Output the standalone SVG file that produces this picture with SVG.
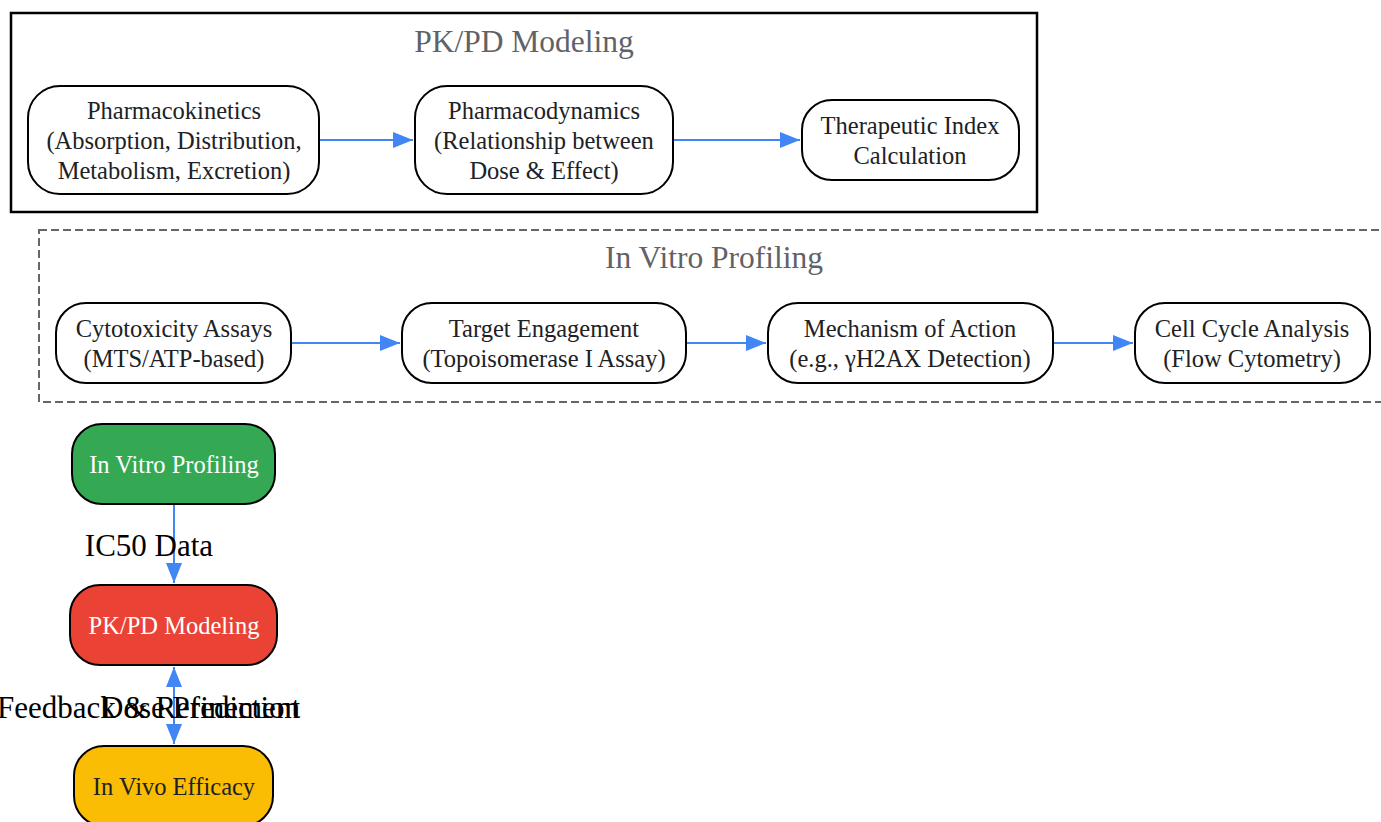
<svg xmlns="http://www.w3.org/2000/svg" width="1381" height="822" viewBox="0 0 1381 822">
<defs>
<style>
.n{fill:#fff;stroke:#000;stroke-width:2}
.t{font-family:"Liberation Serif","Times New Roman",serif;font-size:24.5px;fill:#202124;text-anchor:middle}
.w{fill:#fff}
.ct{font-family:"Liberation Serif","Times New Roman",serif;font-size:31.5px;fill:#5f6368;text-anchor:middle}
.e{stroke:#4285f4;stroke-width:2;fill:none}
.lb{font-family:"Liberation Serif","Times New Roman",serif;font-size:31px;fill:#000}
</style>
<marker id="a" markerWidth="20" markerHeight="16" refX="20" refY="8" orient="auto" markerUnits="userSpaceOnUse"><path d="M0,0L20,8L0,16Z" fill="#4285f4"/></marker>
</defs>
<rect width="1381" height="822" fill="#fff"/>
<g id="cluster-pkpd">
<rect x="11" y="13" width="1026" height="199" fill="none" stroke="#000" stroke-width="2.5"/>
<text class="ct" x="524" y="52">PK/PD Modeling</text>
</g>
<g id="cluster-invitro">
<rect x="39" y="230" width="1360" height="172" fill="none" stroke="#666" stroke-width="2" stroke-dasharray="8,4"/>
<text class="ct" x="714" y="268">In Vitro Profiling</text>
</g>
<g id="edges">
<path class="e" d="M319,140H413" marker-end="url(#a)"/>
<path class="e" d="M673,140H800" marker-end="url(#a)"/>
<path class="e" d="M291,343H400" marker-end="url(#a)"/>
<path class="e" d="M686,343H766" marker-end="url(#a)"/>
<path class="e" d="M1053,343H1133" marker-end="url(#a)"/>
<path class="e" d="M174,504V583" marker-end="url(#a)"/>
<path class="e" d="M174,744V667" marker-end="url(#a)"/>
<path class="e" d="M174,667V744" marker-end="url(#a)"/>
<text class="lb" x="149" y="556" text-anchor="middle">IC50 Data</text>
<text class="lb" x="300" y="718" text-anchor="end">Feedback &amp; Refinement</text>
<text class="lb" x="300" y="718" text-anchor="end">Dose Prediction</text>
</g>
<g id="pk">
<rect class="n" x="28" y="86" width="291" height="108" rx="32"/>
<text class="t" x="174" y="119">Pharmacokinetics</text>
<text class="t" x="174" y="149">(Absorption, Distribution,</text>
<text class="t" x="174" y="179">Metabolism, Excretion)</text>
</g>
<g id="pd">
<rect class="n" x="415" y="86" width="258" height="108" rx="32"/>
<text class="t" x="544" y="119">Pharmacodynamics</text>
<text class="t" x="544" y="149">(Relationship between</text>
<text class="t" x="544" y="179">Dose &amp; Effect)</text>
</g>
<g id="ti">
<rect class="n" x="802" y="100" width="217" height="80" rx="30"/>
<text class="t" x="910" y="134">Therapeutic Index</text>
<text class="t" x="910" y="164">Calculation</text>
</g>
<g id="cyto">
<rect class="n" x="56" y="303" width="235" height="80" rx="30"/>
<text class="t" x="174" y="337">Cytotoxicity Assays</text>
<text class="t" x="174" y="367">(MTS/ATP-based)</text>
</g>
<g id="target">
<rect class="n" x="402" y="303" width="284" height="80" rx="30"/>
<text class="t" x="544" y="337">Target Engagement</text>
<text class="t" x="544" y="367">(Topoisomerase I Assay)</text>
</g>
<g id="moa">
<rect class="n" x="768" y="303" width="285" height="80" rx="30"/>
<text class="t" x="910" y="337">Mechanism of Action</text>
<text class="t" x="910" y="367">(e.g., γH2AX Detection)</text>
</g>
<g id="cellcycle">
<rect class="n" x="1135" y="303" width="235" height="80" rx="30"/>
<text class="t" x="1252" y="337">Cell Cycle Analysis</text>
<text class="t" x="1252" y="367">(Flow Cytometry)</text>
</g>
<g id="invitro">
<rect x="72" y="424" width="203" height="80" rx="30" fill="#34a853" stroke="#000" stroke-width="2"/>
<text class="t w" x="174" y="473">In Vitro Profiling</text>
</g>
<g id="pkpd">
<rect x="70" y="585" width="207" height="80" rx="30" fill="#ea4335" stroke="#000" stroke-width="2"/>
<text class="t w" x="174" y="634">PK/PD Modeling</text>
</g>
<g id="invivo">
<rect x="74" y="746" width="199" height="80" rx="30" fill="#fbbc04" stroke="#000" stroke-width="2"/>
<text class="t" x="174" y="795">In Vivo Efficacy</text>
</g>
</svg>
